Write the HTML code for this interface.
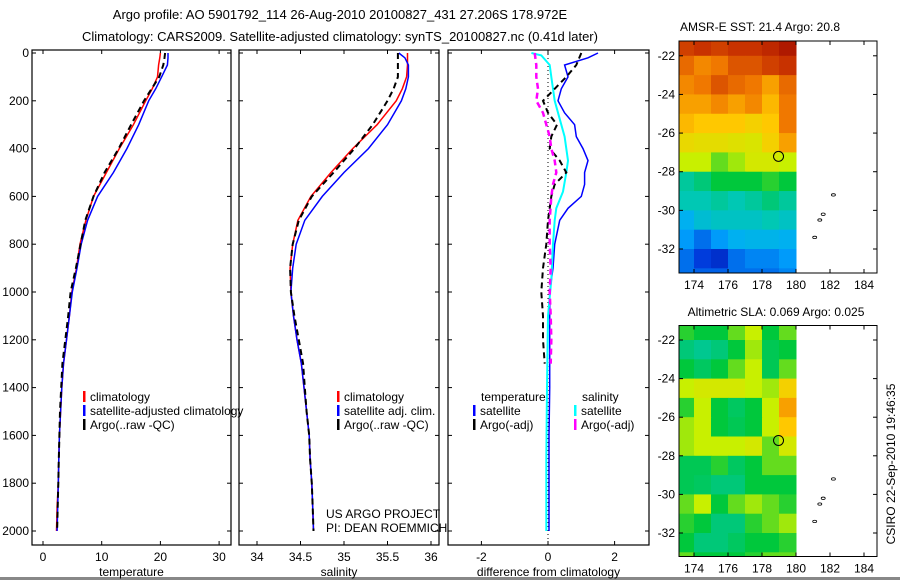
<!DOCTYPE html>
<html><head><meta charset="utf-8"><style>
html,body{margin:0;padding:0;background:#fff;}
svg{display:block;font-family:"Liberation Sans",sans-serif;}
</style></head><body>
<svg id="c" width="900" height="580" viewBox="0 0 900 580">
<text x="340" y="19" font-size="13" text-anchor="middle">Argo profile: AO 5901792_114 26-Aug-2010 20100827_431 27.206S 178.972E</text>
<text x="340" y="41" font-size="13" text-anchor="middle">Climatology: CARS2009. Satellite-adjusted climatology: synTS_20100827.nc (0.41d later)</text>
<text x="760" y="31" font-size="12" text-anchor="middle">AMSR-E SST: 21.4 Argo: 20.8</text>
<text x="776" y="316" font-size="12" text-anchor="middle">Altimetric SLA: 0.069 Argo: 0.025</text>
<text x="0" y="0" font-size="12" text-anchor="middle" transform="translate(895,464) rotate(-90)">CSIRO 22-Sep-2010 19:46:35</text>
<text x="326" y="518" font-size="12">US ARGO PROJECT</text>
<text x="326" y="532" font-size="12">PI: DEAN ROEMMICH</text>
<rect x="0" y="577" width="900" height="3" fill="#888"/>
</svg>
<script>
// ---- data ----
const depthTicks=[0,200,400,600,800,1000,1200,1400,1600,1800,2000];
const profDepths=[0,20,50,100,150,200,300,400,500,600,700,800,900,1000,1100,1200,1300,1400,1500,1600,1700,1800,1900,2000];
const tempClim=[20,19.9,19.7,19.5,18.6,17.5,15.4,13,10.8,8.6,7.3,6.3,5.7,4.9,4.5,4,3.5,3.2,3.0,2.8,2.7,2.6,2.4,2.3];
const tempSat=[21.3,21.3,21.2,20.2,19.2,18,16.3,14.3,12,9.3,7.6,6.5,5.8,5.0,4.5,4,3.5,3.2,3.0,2.8,2.7,2.6,2.5,2.4];
const tempArgo=[20.8,20.7,20.5,19.8,18.5,17.2,15,12.9,10.5,8.6,7.2,6.4,5.6,4.7,4.3,3.8,3.3,3.1,2.9,2.8,2.7,2.6,2.5,2.4];
const salClim=[35.73,35.73,35.73,35.72,35.67,35.6,35.38,35.1,34.85,34.62,34.47,34.41,34.38,34.39,34.42,34.46,34.51,34.54,34.57,34.6,34.61,34.63,34.64,34.65];
const salSat=[35.63,35.7,35.74,35.74,35.71,35.66,35.5,35.28,35.0,34.75,34.55,34.45,34.41,34.39,34.42,34.46,34.51,34.54,34.57,34.6,34.61,34.63,34.64,34.65];
const salArgo=[35.62,35.62,35.62,35.62,35.57,35.5,35.33,35.12,34.88,34.63,34.48,34.41,34.38,34.39,34.43,34.48,34.53,34.55,34.57,34.6,34.61,34.63,34.64,34.65];
const tempTicks=[0,10,20,30];
const salTicks=[34,34.5,35,35.5,36];
const diffTicks=[-2,0,2];
const dSatDepths=[0,20,50,100,150,200,250,300,350,400,450,500,550,600,650,700,800,900,1000,1200,1400,1600,1800,2000];
const dTempSat=[1.5,1.2,0.5,0.6,0.4,0.3,0.5,0.8,0.85,1.05,1.2,1.1,1.1,1.0,0.6,0.35,0.2,0.15,0.05,0.05,0.05,0.03,0.03,0.03];
const dArgoDepths=[0,50,100,150,200,250,300,350,400,450,500,550,600,700,800,900,1000,1100,1200,1300];
const dTempArgo=[1.0,0.85,0.55,0.2,-0.15,0.0,0.27,0.1,0.05,0.35,0.55,0.2,0.1,0.0,-0.05,-0.15,-0.2,-0.15,-0.15,-0.1];
const dSalArgo=[-0.4,-0.35,-0.35,-0.3,-0.35,-0.15,-0.05,0.05,0.1,0.2,0.25,0.15,0.1,0.05,0.05,0.08,0.05,0.08,0.1,0.08];
const cyanDepths=[0,10,50,100,200,300,350,450,500,580,650,700,800,950,1100,1400,1700,2000];
const dSalSat=[-0.5,-0.2,0.05,0.1,0.2,0.4,0.5,0.6,0.55,0.45,0.25,0.2,0.15,0.1,0.0,-0.03,-0.05,-0.05];
const lonTicks=[174,176,178,180,182,184];
const latTicks=[-22,-24,-26,-28,-30,-32];
const gridLons=[173,174,175,176,177,178,179];
const gridLats=[-21,-22,-23,-24,-25,-26,-27,-28,-29,-30,-31,-32,-33];
const sstGrid=[
[0.88,0.9,0.88,0.9,0.9,0.92,0.95],[0.82,0.78,0.8,0.85,0.85,0.88,0.9],[0.78,0.8,0.85,0.82,0.8,0.75,0.82],
[0.75,0.75,0.78,0.75,0.78,0.72,0.8],[0.72,0.7,0.7,0.7,0.68,0.7,0.8],[0.66,0.65,0.65,0.64,0.63,0.68,0.75],
[0.6,0.6,0.55,0.58,0.62,0.62,0.6],[0.42,0.45,0.5,0.5,0.5,0.52,0.5],[0.4,0.4,0.42,0.4,0.42,0.45,0.42],
[0.32,0.36,0.38,0.38,0.38,0.4,0.38],[0.28,0.22,0.28,0.32,0.33,0.33,0.32],[0.22,0.15,0.12,0.22,0.25,0.25,0.28],
[0.22,0.2,0.2,0.22,0.22,0.22,0.25]];
const slaGrid=[
[0.52,0.5,0.5,0.55,0.6,0.5,0.55],[0.45,0.43,0.45,0.5,0.58,0.48,0.5],[0.5,0.47,0.5,0.55,0.6,0.48,0.55],
[0.6,0.62,0.62,0.62,0.6,0.58,0.68],[0.52,0.6,0.5,0.47,0.5,0.6,0.75],[0.58,0.6,0.5,0.48,0.5,0.6,0.7],
[0.58,0.6,0.6,0.6,0.62,0.55,0.62],[0.48,0.48,0.52,0.47,0.5,0.55,0.55],[0.48,0.47,0.45,0.45,0.5,0.5,0.5],
[0.55,0.6,0.5,0.55,0.58,0.55,0.52],[0.52,0.5,0.45,0.45,0.52,0.55,0.58],[0.5,0.45,0.45,0.47,0.5,0.5,0.52],
[0.55,0.5,0.5,0.5,0.52,0.55,0.55]];
const floatPos=[178.972,-27.206];

// ---- drawing ----
const S=document.getElementById('c');const NS='http://www.w3.org/2000/svg';
function mk(t,a,p){const e=document.createElementNS(NS,t);for(const k in a)e.setAttribute(k,a[k]);(p||S).appendChild(e);return e;}
const PT=50,PB=545;
const yD=d=>53+d*0.239;
const xT=v=>43+v*5.87, xS=v=>257+(v-34)*87, xDf=v=>548+v*33.3;
function panel(name,x0,x1,xf,ticks,fmt,label,yLabels){
  const f=mk('rect',{x:x0,y:PT,width:x1-x0,height:PB-PT,fill:'none',stroke:'#000','stroke-width':1.2});
  
  depthTicks.forEach(d=>{const y=yD(d);
    mk('line',{x1:x0,x2:x0+4,y1:y,y2:y,stroke:'#000'});mk('line',{x1:x1-4,x2:x1,y1:y,y2:y,stroke:'#000'});
    if(yLabels){const t=mk('text',{x:x0-3,y:y+4,'font-size':12,'text-anchor':'end'});t.textContent=d;
      }});
  ticks.forEach(v=>{const x=xf(v);
    mk('line',{x1:x,x2:x,y1:PB,y2:PB-4,stroke:'#000'});mk('line',{x1:x,x2:x,y1:PT,y2:PT+4,stroke:'#000'});
    const t=mk('text',{x:x,y:561,'font-size':12,'text-anchor':'middle'});t.textContent=fmt(v);
    });
  const l=mk('text',{x:(x0+x1)/2,y:576,'font-size':12,'text-anchor':'middle'});l.textContent=label;
  
}
function line(name,xs,ds,xf,col,dash,w){
  const pts=xs.map((v,i)=>xf(v).toFixed(1)+','+yD(ds[i]).toFixed(1)).join(' ');
  const p=mk('polyline',{points:pts,fill:'none',stroke:col,'stroke-width':w||1.5});
  if(dash)p.setAttribute('stroke-dasharray',dash);
  
}
function legend(name,x,y,col,txt){
  mk('rect',{x:x,y:y-10,width:2.5,height:11,fill:col});
  const t=mk('text',{x:x+7,y:y,'font-size':12});t.textContent=txt;
  
}
panel('temperature-panel',32,231,xT,tempTicks,v=>v,'temperature',true);
panel('salinity-panel',239,439,xS,salTicks,v=>v,'salinity',false);
panel('difference-panel',448,649,xDf,diffTicks,v=>v,'difference from climatology',false);
line('temp-climatology-line',tempClim,profDepths,xT,'#f00');
line('temp-satellite-line',tempSat,profDepths,xT,'#00f');
line('temp-argo-line',tempArgo,profDepths,xT,'#000','6,4',2);
line('sal-climatology-line',salClim,profDepths,xS,'#f00');
line('sal-satellite-line',salSat,profDepths,xS,'#00f');
line('sal-argo-line',salArgo,profDepths,xS,'#000','6,4',2);
const z=mk('line',{x1:xDf(0),x2:xDf(0),y1:PT,y2:PB,stroke:'#000','stroke-dasharray':'1,3'});

line('diff-temp-satellite-line',dTempSat,dSatDepths,xDf,'#00f');
line('diff-sal-satellite-line',dSalSat,cyanDepths,xDf,'#0ff',null,2);
line('diff-temp-argo-line',dTempArgo,dArgoDepths,xDf,'#000','6,4',2);
line('diff-sal-argo-line',dSalArgo,dArgoDepths,xDf,'#f0f','6,4',2.5);
legend('legend-climatology',83,401,'#f00','climatology');
legend('legend-satellite-adjusted',83,415,'#00f','satellite-adjusted climatology');
legend('legend-argo',83,429,'#000','Argo(..raw -QC)');
legend('legend-sal-climatology',337,401,'#f00','climatology');
legend('legend-sal-satellite',337,415,'#00f','satellite adj. clim.');
legend('legend-sal-argo',337,429,'#000','Argo(..raw -QC)');
let t=mk('text',{x:481,y:401,'font-size':12});t.textContent='temperature';

t=mk('text',{x:582,y:401,'font-size':12});t.textContent='salinity';

legend('legend-diff-temp-satellite',473,415,'#00f','satellite');
legend('legend-diff-temp-argo',473,429,'#000','Argo(-adj)');
legend('legend-diff-sal-satellite',574,415,'#0ff','satellite');
legend('legend-diff-sal-argo',574,429,'#f0f','Argo(-adj)');

const stops=[[0,[0,0,140]],[0.15,[0,60,220]],[0.3,[0,170,255]],[0.4,[0,200,180]],[0.5,[0,200,60]],[0.6,[200,240,0]],[0.7,[255,200,0]],[0.8,[240,120,0]],[0.9,[200,50,0]],[1,[150,0,0]]];
function cmap(v){v=Math.max(0,Math.min(1,v));
  for(let i=1;i<stops.length;i++){if(v<=stops[i][0]){const a=stops[i-1],b=stops[i],f=(v-a[0])/(b[0]-a[0]);
    return 'rgb('+a[1].map((c,k)=>Math.round(c+(b[1][k]-c)*f)).join(',')+')';}}
  return 'rgb(150,0,0)';}
function map(name,top,bot,lat22,lat32,grid){
  const x0=679,x1=877;const ps=(lat32-lat22)/10;
  const xL=lon=>694+(lon-174)*17, yL=lat=>lat22+(-22-lat)*ps;
  const cid='clip-'+name;
  const cp=mk('clipPath',{id:cid});mk('rect',{x:x0,y:top,width:x1-x0,height:bot-top},cp);
  const g=mk('g',{'clip-path':`url(#${cid})`});
  
  grid.forEach((row,i)=>row.forEach((v,j)=>{
    const lonR=Math.min(gridLons[j]+1,180);
    const c=mk('rect',{x:xL(gridLons[j]),y:yL(gridLats[i]),width:xL(lonR)-xL(gridLons[j])+0.5,height:ps+0.5,fill:cmap(v)},g);
    }));
  const f=mk('rect',{x:x0,y:top,width:x1-x0,height:bot-top,fill:'none',stroke:'#000'});
  
  lonTicks.forEach(l=>{const x=xL(l);mk('line',{x1:x,x2:x,y1:bot,y2:bot-4,stroke:'#000'});mk('line',{x1:x,x2:x,y1:top,y2:top+4,stroke:'#000'});
    const t=mk('text',{x:x,y:bot+16,'font-size':12,'text-anchor':'middle'});t.textContent=l;
    });
  latTicks.forEach(l=>{const y=yL(l);mk('line',{x1:x0,x2:x0+4,y1:y,y2:y,stroke:'#000'});mk('line',{x1:x1-4,x2:x1,y1:y,y2:y,stroke:'#000'});
    const t=mk('text',{x:x0-4,y:y+4,'font-size':12,'text-anchor':'end'});t.textContent=l;
    });
  [[182.2,-29.2],[181.6,-30.2],[181.4,-30.5],[181.1,-31.4]].forEach(p=>{
    const e=mk('ellipse',{cx:xL(p[0]),cy:yL(p[1]),rx:2,ry:1.2,fill:'none',stroke:'#000','stroke-width':0.8});
    });
  const m=mk('circle',{cx:xL(floatPos[0]),cy:yL(floatPos[1]),r:5,fill:'none',stroke:'#000'});
  
}
map('sst-map',41,273,55.8,249,sstGrid);
map('sla-map',325.5,556.5,340,533,slaGrid);
</script>
</body></html>
